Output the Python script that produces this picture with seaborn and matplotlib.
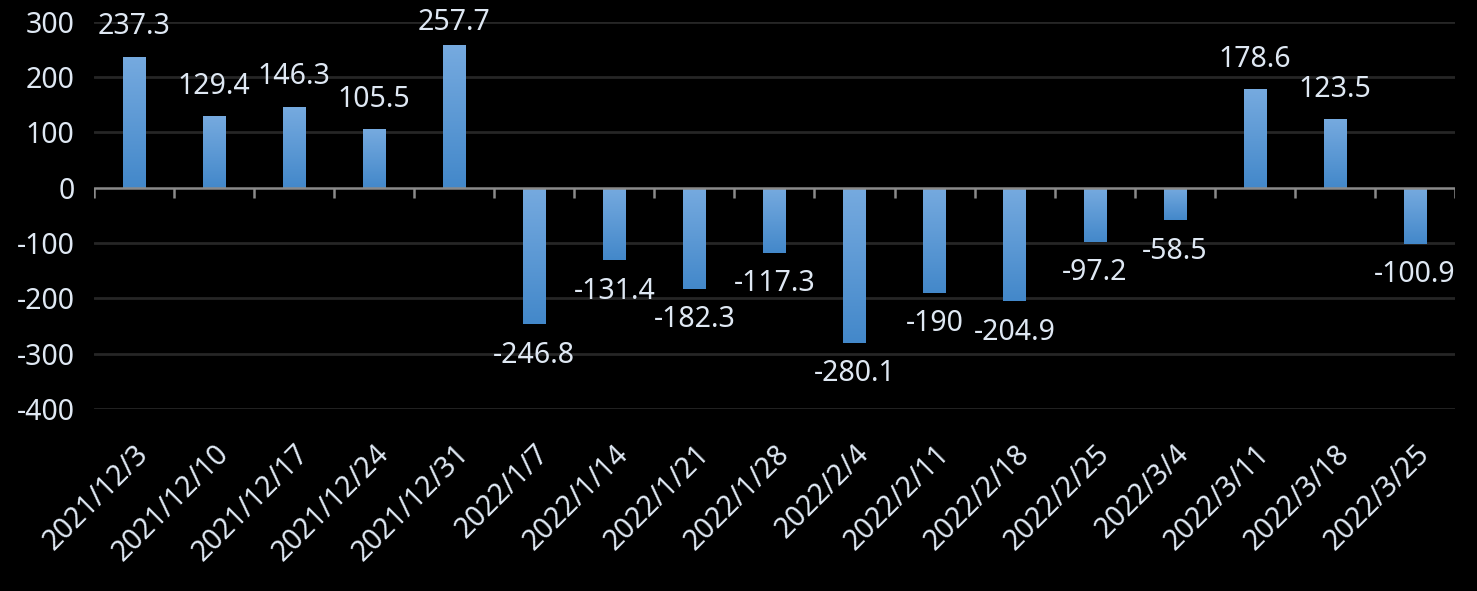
import matplotlib
matplotlib.use("Agg")
import matplotlib.pyplot as plt
import numpy as np
import pandas as pd
import seaborn as sns
from matplotlib.colors import LinearSegmentedColormap

dates = ["2021/12/3", "2021/12/10", "2021/12/17", "2021/12/24", "2021/12/31",
         "2022/1/7", "2022/1/14", "2022/1/21", "2022/1/28", "2022/2/4",
         "2022/2/11", "2022/2/18", "2022/2/25", "2022/3/4", "2022/3/11",
         "2022/3/18", "2022/3/25"]
values = [237.3, 129.4, 146.3, 105.5, 257.7,
          -246.8, -131.4, -182.3, -117.3, -280.1,
          -190, -204.9, -97.2, -58.5, 178.6,
          123.5, -100.9]
value_labels = ["237.3", "129.4", "146.3", "105.5", "257.7",
                "-246.8", "-131.4", "-182.3", "-117.3", "-280.1",
                "-190", "-204.9", "-97.2", "-58.5", "178.6",
                "123.5", "-100.9"]
y_ticks = [-400, -300, -200, -100, 0, 100, 200, 300]

df = pd.DataFrame({"date": dates, "value": values})

sns.set_theme(style="dark")
plt.rcParams["font.family"] = ["Noto Sans", "DejaVu Sans"]
txt = "#dfe8f3"

fig = plt.figure(figsize=(14.77, 5.91), dpi=100, facecolor="black")
ax = fig.add_axes([0.0636, 0.308, 0.9215, 0.655])
ax.set_facecolor("black")

sns.barplot(data=df, x="date", y="value", ax=ax, width=0.28, color="#5b9bd5",
            saturation=1, edgecolor="none")

ax.set_ylim(-400, 300)
ax.set_xlim(-0.5, len(dates) - 0.5)

# gradient fill for each bar
cmap = LinearSegmentedColormap.from_list("g", ["#4388ca", "#76aadf"])
grad = np.linspace(0, 1, 256).reshape(-1, 1)
for p in ax.patches:
    x0, y0 = p.get_x(), p.get_y()
    w, h = p.get_width(), p.get_height()
    lo, hi = min(y0, y0 + h), max(y0, y0 + h)
    im = ax.imshow(grad, cmap=cmap, aspect="auto", origin="lower",
                   extent=(x0, x0 + w, lo, hi), zorder=3)
    im.set_clip_path(p)
    p.set_facecolor("none")

# gridlines
for yt in y_ticks:
    if yt != 0:
        ax.axhline(yt, color="#262626", lw=2, zorder=1)
ax.axhline(0, color="#8a8a8a", lw=1.8, zorder=4)
bounds = np.arange(len(dates) + 1) - 0.5
ax.vlines(bounds, 0, -18, color="#8a8a8a", lw=1.8, zorder=4)

# value labels (kept inside the chart area like Excel does)
fig_h = fig.get_figheight() * fig.dpi
for i, (v, s) in enumerate(zip(values, value_labels)):
    if v >= 0:
        bar_px = ax.transData.transform((i, v))[1]
        off = min(30, (fig_h - 22) - bar_px)
    else:
        off = -31
    ax.annotate(s, (i, v), xytext=(0, off), textcoords="offset pixels",
                ha="center", va="center", color=txt, fontsize=20.5,
                clip_on=False, zorder=5)

for sp in ax.spines.values():
    sp.set_visible(False)
ax.grid(False)
ax.set_yticks(y_ticks)
ax.set_yticklabels([str(t) for t in y_ticks], color=txt, fontsize=20.5)
ax.tick_params(axis="y", length=0, pad=14)
ax.set_xticks(range(len(dates)))
ax.set_xticklabels(dates, rotation=45, ha="right", rotation_mode="anchor",
                   color=txt, fontsize=20.5)
ax.tick_params(axis="x", length=0, pad=22)
ax.set_xlabel("")
ax.set_ylabel("")

fig.savefig("out.png", dpi=100, facecolor="black")
